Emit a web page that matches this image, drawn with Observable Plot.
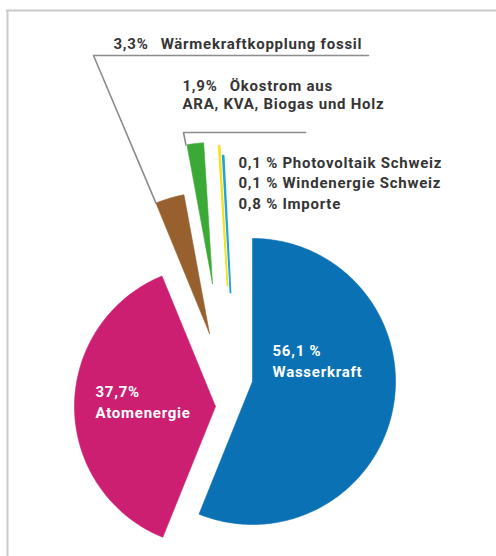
<!DOCTYPE html>
<html>
<head>
<meta charset="utf-8">
<script src="https://cdn.jsdelivr.net/npm/d3@7"></script>
<script src="https://cdn.jsdelivr.net/npm/@observablehq/plot@0.6"></script>
<style>
html, body { margin: 0; padding: 0; background: #fff; }
#chart svg { display: block; font-family: Roboto, "DejaVu Sans", sans-serif; }
#chart svg text { letter-spacing: 0.75px; }
</style>
</head>
<body>
<div id="chart"></div>
<script>
// ---- data ----
const categories = [
  "Wasserkraft",
  "Atomenergie",
  "Wärmekraftkopplung fossil",
  "Ökostrom aus\nARA, KVA, Biogas und Holz",
  "Photovoltaik Schweiz",
  "Windenergie Schweiz",
  "Importe"
];
const shares = [56.1, 37.7, 3.3, 1.9, 0.1, 0.1, 0.8];
const shareLabels = ["56,1 %", "37,7%", "3,3%", "1,9%", "0,1 %", "0,1 %", "0,8 %"];
const colors = ["#0a71b4", "#cd1f72", "#98602e", "#3ba935", "#f4e21c", "#1ea3dd", "#ffffff"];

// ---- layout (slice apex offsets and radii, like an exploded pie) ----
const W = 496, H = 556;
const apexes = [[252, 381], [215, 406], [209, 333], [212, 283], [227, 285], [230, 292], [231, 292]];
const radii = [143, 141, 141, 141, 140, 137, 137];

const total = d3.sum(shares);
let acc = 0;
const slices = shares.map((v, i) => {
  const a0 = acc / total * 2 * Math.PI;
  acc += v;
  const a1 = acc / total * 2 * Math.PI;
  return {i, a0, a1};
});
const pt = (i, a) => [apexes[i][0] + radii[i] * Math.sin(a), apexes[i][1] - radii[i] * Math.cos(a)];

const polys = [];
slices.forEach(s => {
  const i = s.i;
  const base = {cat: categories[i], color: colors[i], share: shares[i]};
  polys.push({...base, x: apexes[i][0], y: apexes[i][1]});
  const n = Math.max(2, Math.ceil((s.a1 - s.a0) / (Math.PI / 180)));
  for (let k = 0; k <= n; k++) {
    const [x, y] = pt(i, s.a0 + (s.a1 - s.a0) * k / n);
    polys.push({...base, x, y});
  }
  polys.push({...base, x: apexes[i][0], y: apexes[i][1]});
});

// leader lines to the outer corners of the small slices
const brownCorner = pt(2, slices[2].a0);
const greenCorner = pt(3, slices[3].a0);
const leaders = [
  {id: 1, x: 368, y: 55}, {id: 1, x: 93, y: 55}, {id: 1, x: brownCorner[0], y: brownCorner[1]},
  {id: 2, x: 305, y: 132}, {id: 2, x: 183, y: 132}, {id: 2, x: greenCorner[0] - 1, y: greenCorner[1]}
];

const gap = "\u2002\u2009";
const outerLabels = [
  {x: 113, y: 48, lh: 1.3, text: `${shareLabels[2]}${gap}${categories[2]}`},
  {x: 182, y: 108.5, lh: 1.2, text: `${shareLabels[3]}${gap}${categories[3]}`},
  {x: 238, y: 208, lh: 1.34, text: [4, 5, 6].map(i => `${shareLabels[i]} ${categories[i]}`).join("\n")}
];
const innerLabels = [
  {x: 272, y: 376, text: `${shareLabels[0]}\n${categories[0]}`},
  {x: 95, y: 417, text: `${shareLabels[1]}\n${categories[1]}`}
];

const chart = Plot.plot({
  width: W,
  height: H,
  margin: 0,
  x: {domain: [0, W], range: [0, W], axis: null},
  y: {domain: [0, H], range: [0, H], axis: null},
  color: {type: "identity"},
  marks: [
    Plot.ruleX([7], {y1: 10, y2: H, stroke: "#c9c9c9", strokeWidth: 2}),
    Plot.ruleY([10], {x1: 6, x2: W, stroke: "#c9c9c9", strokeWidth: 2}),
    Plot.line(polys.filter(d => d.share >= 0.5), {x: "x", y: "y", z: "cat", fill: "color", stroke: "color", strokeWidth: 0.6, curve: "linear"}),
    Plot.line(polys.filter(d => d.share < 0.5), {x: "x", y: "y", z: "cat", fill: "color", stroke: "color", strokeWidth: 1.8, curve: "linear"}),
    Plot.line(leaders, {x: "x", y: "y", z: "id", stroke: "#8c8c8c", strokeWidth: 1.6}),
    ...outerLabels.map(d => Plot.text([d], {x: "x", y: "y", text: "text", textAnchor: "start", lineAnchor: "bottom", lineHeight: d.lh, fontSize: 15, fontWeight: "bold", fill: "#353535"})),
    Plot.text(innerLabels, {x: "x", y: "y", text: "text", textAnchor: "start", lineAnchor: "bottom", lineHeight: 1.4, fontSize: 15, fontWeight: "bold", fill: "#ffffff"})
  ]
});
document.getElementById("chart").appendChild(chart);
</script>
</body>
</html>
